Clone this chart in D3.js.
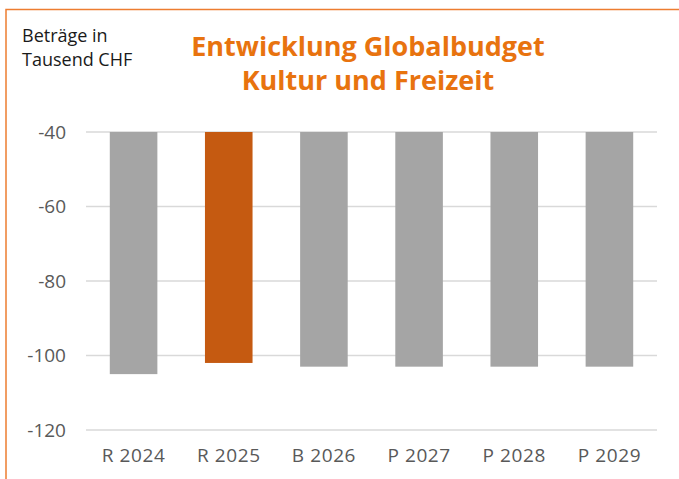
<!DOCTYPE html>
<html>
<head>
<meta charset="utf-8">
<script src="https://cdn.jsdelivr.net/npm/d3@7"></script>
<style>
  body { margin: 0; background: #fff; }
  #chart { width: 679px; height: 479px; }
</style>
</head>
<body>
<div id="chart"></div>
<script>
// chart values (Beträge in Tausend CHF)
var categories = ["R 2024", "R 2025", "B 2026", "P 2027", "P 2028", "P 2029"];
var values = [-105, -102, -103, -103, -103, -103];
var yTicks = [-40, -60, -80, -100, -120];
var highlight = "R 2025";

var width = 679, height = 479;
var margin = { top: 132, right: 22, bottom: 49, left: 86 };

var grey = '#a5a5a5';
var orange = '#c55a11';
var titleColor = '#e8730f';
var textColor = '#595959';

var svg = d3.select("#chart")
  .append("svg")
  .attr("width", width)
  .attr("height", height);

// frame: orange line along top and left edge
svg.append("path")
  .attr("d", "M6," + height + "V9.5H" + width)
  .attr("fill", "none")
  .attr("stroke", "#ed7d31")
  .attr("stroke-width", 1.5);

var x = d3.scaleBand()
  .domain(categories)
  .range([margin.left, width - margin.right])
  .paddingInner(0.5)
  .paddingOuter(0.25);

var y = d3.scaleLinear()
  .domain([-120, -40])
  .range([height - margin.bottom, margin.top]);

// gridlines
svg.append("g")
  .selectAll("line")
  .data(yTicks)
  .enter()
  .append("line")
  .attr("x1", margin.left)
  .attr("x2", width - margin.right)
  .attr("y1", function(d) { return y(d); })
  .attr("y2", function(d) { return y(d); })
  .attr("stroke", "#d9d9d9")
  .attr("stroke-width", 1.5);

// y axis labels (plain hyphen like the original)
var yAxis = d3.axisLeft(y)
  .tickValues(yTicks)
  .tickFormat(function(d) { return String(d); })
  .tickSize(0)
  .tickPadding(20);
var gy = svg.append("g")
  .attr("transform", "translate(" + margin.left + ",0)")
  .call(yAxis);
gy.select(".domain").remove();
gy.selectAll("text")
  .style("font-family", "'Open Sans', sans-serif")
  .style("font-size", "19px")
  .attr("fill", textColor);

// bars hang down from the top of the axis
svg.append("g")
  .selectAll("rect")
  .data(values)
  .enter()
  .append("rect")
  .attr("x", function(d, i) { return x(categories[i]); })
  .attr("y", y(-40))
  .attr("width", x.bandwidth())
  .attr("height", function(d) { return y(d) - y(-40); })
  .attr("fill", function(d, i) { return categories[i] == highlight ? orange : grey; });

// x axis labels
var xAxis = d3.axisBottom(x).tickSize(0).tickPadding(19);
var gx = svg.append("g")
  .attr("transform", "translate(0," + y(-120) + ")")
  .call(xAxis);
gx.select(".domain").remove();
gx.selectAll("text")
  .style("font-family", "'Open Sans', sans-serif")
  .style("font-size", "19px")
  .style("letter-spacing", "0.6px")
  .attr("fill", textColor);

// unit label
var unit = svg.append("text")
  .style("font-family", "'Open Sans', sans-serif")
  .style("font-size", "18px")
  .attr("fill", "#1a1a1a");
unit.append("tspan").attr("x", 22).attr("y", 42).text("Beträge in");
unit.append("tspan").attr("x", 22).attr("y", 66).text("Tausend CHF");

// title
var title = svg.append("text")
  .attr("text-anchor", "middle")
  .style("font-family", "'Open Sans', sans-serif")
  .style("font-size", "27px")
  .style("font-weight", "bold")
  .attr("fill", titleColor);
title.append("tspan").attr("x", 368).attr("y", 56).text("Entwicklung Globalbudget");
title.append("tspan").attr("x", 368).attr("y", 90).text("Kultur und Freizeit");
</script>
</body>
</html>
